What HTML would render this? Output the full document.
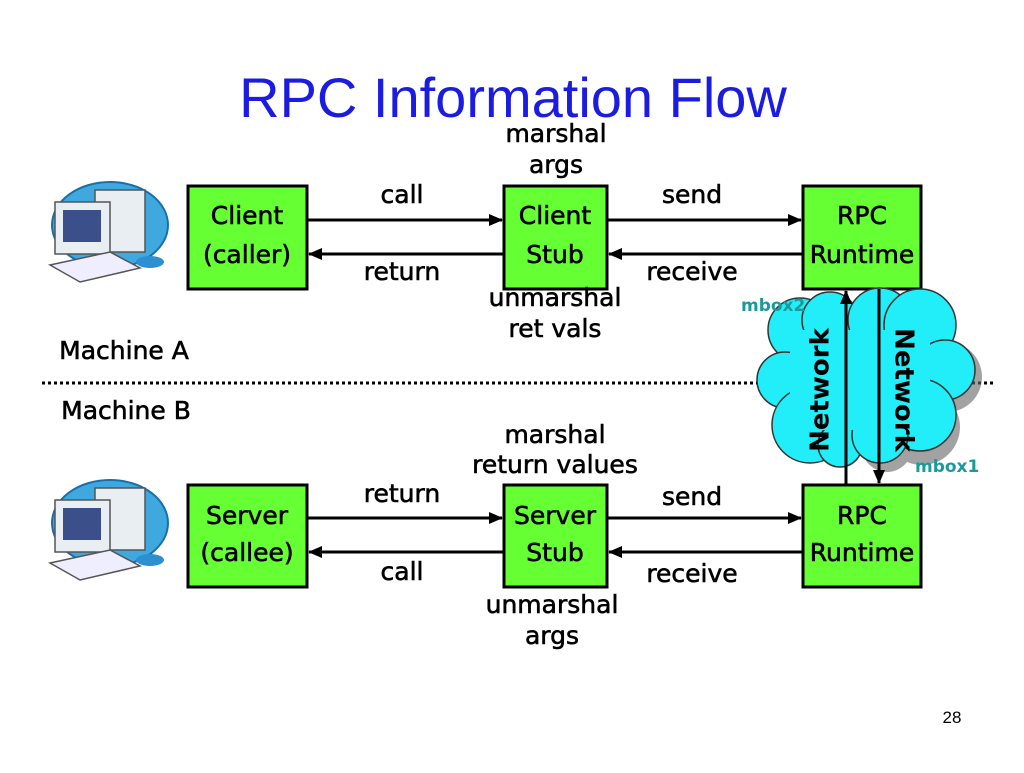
<!DOCTYPE html>
<html><head><style>
body{margin:0;width:1024px;height:768px;background:#fff;overflow:hidden;font-family:"Liberation Sans",sans-serif}
</style></head><body>
<svg width="1024" height="768" xmlns="http://www.w3.org/2000/svg" font-family="Liberation Sans, sans-serif">
<defs>
<marker id="a" markerWidth="14" markerHeight="12" refX="13" refY="6" orient="auto" markerUnits="userSpaceOnUse"><path d="M0,0 L14,6 L0,12 z" fill="#000"/></marker>
<g id="pc">
<ellipse cx="110" cy="45" rx="58" ry="43" fill="#3fa9df" stroke="#1b6fa8" stroke-width="2"/>
<rect x="95" y="10" width="50" height="62" fill="#e8eef2" stroke="#555" stroke-width="1.5"/>
<rect x="55" y="22" width="55" height="52" fill="#e8eef2" stroke="#555" stroke-width="1.5"/>
<rect x="63" y="30" width="38" height="32" fill="#3b4f8a"/>
<polygon points="50,85 110,72 140,88 80,102" fill="#eef" stroke="#555" stroke-width="1.5"/>
<ellipse cx="150" cy="82" rx="14" ry="6" fill="#2b8fd0"/>
</g>
</defs>
<text x="513" y="117" font-size="56" fill="#1c1ce0" text-anchor="middle">RPC Information Flow</text>

<use href="#pc" x="0" y="180"/>
<use href="#pc" x="0" y="478"/>

<g fill="#66ff33" stroke="#000" stroke-width="3">
<rect x="188" y="186" width="119" height="103"/>
<rect x="504" y="186" width="103" height="103"/>
<rect x="803" y="186" width="118" height="103"/>
<rect x="188" y="485" width="119" height="102"/>
<rect x="504" y="485" width="103" height="102"/>
<rect x="803" y="485" width="118" height="102"/>
</g>

<line x1="42" y1="383" x2="995" y2="383" stroke="#000" stroke-width="3" stroke-dasharray="3,3"/>

<g fill="#666" opacity="0.6" transform="translate(7,7)">
<circle cx="905" cy="330" r="40"/><circle cx="940" cy="370" r="35"/><circle cx="915" cy="420" r="38"/><circle cx="880" cy="440" r="25"/>
</g>
<g fill="#22eefa" stroke="#333" stroke-width="1.5">
<circle cx="800" cy="330" r="32"/><circle cx="785" cy="380" r="28"/><circle cx="810" cy="425" r="38"/><circle cx="840" cy="445" r="22"/><circle cx="830" cy="320" r="28"/>
<circle cx="880" cy="320" r="32"/><circle cx="920" cy="325" r="36"/><circle cx="945" cy="370" r="30"/><circle cx="920" cy="415" r="36"/><circle cx="880" cy="435" r="28"/>
</g>
<rect x="790" y="330" width="140" height="100" fill="#22eefa"/>

<g stroke="#000" stroke-width="3" fill="none">
<line x1="307" y1="220" x2="502" y2="220" marker-end="url(#a)"/>
<line x1="504" y1="254" x2="309" y2="254" marker-end="url(#a)"/>
<line x1="607" y1="220" x2="801" y2="220" marker-end="url(#a)"/>
<line x1="803" y1="254" x2="609" y2="254" marker-end="url(#a)"/>
<line x1="307" y1="518" x2="502" y2="518" marker-end="url(#a)"/>
<line x1="504" y1="552" x2="309" y2="552" marker-end="url(#a)"/>
<line x1="607" y1="518" x2="801" y2="518" marker-end="url(#a)"/>
<line x1="803" y1="552" x2="609" y2="552" marker-end="url(#a)"/>
<line x1="846" y1="485" x2="846" y2="291" marker-end="url(#a)"/>
<line x1="879" y1="289" x2="879" y2="483" marker-end="url(#a)"/>
</g>

<g font-family="DejaVu Sans, sans-serif" font-size="26" font-weight="bold" text-anchor="middle" fill="#000">
<text x="821" y="390" transform="rotate(-90 821 390)" dominant-baseline="middle">Network</text>
<text x="903" y="390" transform="rotate(90 903 390)" dominant-baseline="middle">Network</text>
</g>

<g font-family="DejaVu Sans, sans-serif" font-size="25" text-anchor="middle" fill="#000" stroke="#000" stroke-width="0.6">
<text x="247" y="224">Client</text><text x="247" y="263">(caller)</text>
<text x="555" y="224">Client</text><text x="555" y="263">Stub</text>
<text x="862" y="224">RPC</text><text x="862" y="263">Runtime</text>
<text x="247" y="524">Server</text><text x="247" y="561">(callee)</text>
<text x="555" y="524">Server</text><text x="555" y="561">Stub</text>
<text x="862" y="524">RPC</text><text x="862" y="561">Runtime</text>
<text x="402" y="203">call</text>
<text x="402" y="280">return</text>
<text x="692" y="203">send</text>
<text x="692" y="280">receive</text>
<text x="556" y="142">marshal</text>
<text x="556" y="173">args</text>
<text x="555" y="306">unmarshal</text>
<text x="555" y="337">ret vals</text>
<text x="402" y="502">return</text>
<text x="402" y="580">call</text>
<text x="692" y="505">send</text>
<text x="692" y="582">receive</text>
<text x="555" y="443">marshal</text>
<text x="555" y="473">return values</text>
<text x="552" y="613">unmarshal</text>
<text x="552" y="644">args</text>
<text x="124" y="359">Machine A</text>
<text x="126" y="419">Machine B</text>
</g>
<g font-family="DejaVu Sans, sans-serif" font-size="17" fill="#1a9a9a" font-weight="bold">
<text x="741" y="311">mbox2</text>
<text x="915" y="472">mbox1</text>
</g>
<text x="952" y="723" font-size="17" text-anchor="middle">28</text>
</svg>
</body></html>
